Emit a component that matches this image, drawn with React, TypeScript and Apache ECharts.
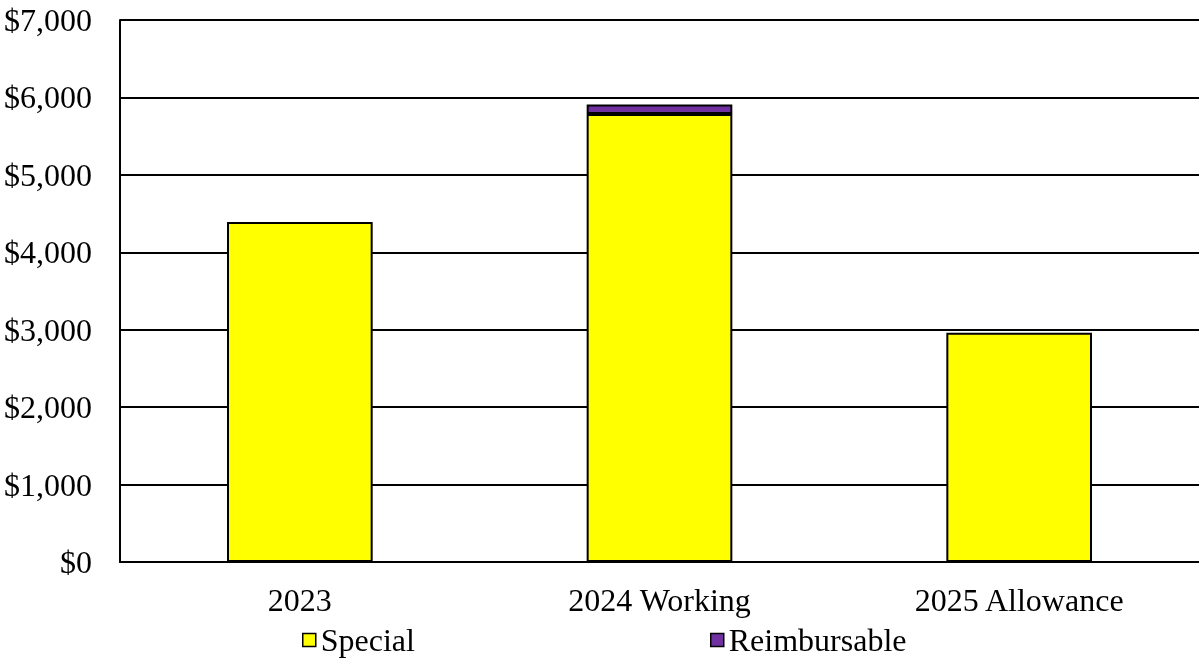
import React, { useEffect, useRef } from "react";
import * as echarts from "echarts";

const categories = ["2023", "2024 Working", "2025 Allowance"];
const specialValues = [4390, 5786, 2962];
const reimbursableValues = [0, 124, 0];
const yTicks = { min: 0, max: 7000, interval: 1000 };

const FONT = "'Liberation Serif', 'Times New Roman', serif";

export default function App() {
  const ref = useRef<HTMLDivElement>(null);
  useEffect(() => {
    if (!ref.current) return;
    const chart = echarts.init(ref.current, null, { renderer: "svg" });
    const legendBase = {
      top: 624,
      padding: 0,
      itemWidth: 13,
      itemHeight: 13,
      itemGap: 0,
      icon: "rect",
      itemStyle: { borderColor: "#000", borderWidth: 1.5 },
      textStyle: { color: "#000", fontFamily: FONT, fontSize: 32 },
    };
    chart.setOption({
      animation: false,
      grid: { left: 120, right: 0, top: 20, bottom: 99, containLabel: false },
      xAxis: {
        type: "category",
        data: categories,
        axisLine: { show: true, lineStyle: { color: "#000", width: 2 } },
        axisTick: { show: false },
        axisLabel: { color: "#000", fontFamily: FONT, fontSize: 32, margin: 22 },
      },
      yAxis: {
        type: "value",
        min: yTicks.min,
        max: yTicks.max,
        interval: yTicks.interval,
        axisLine: { show: true, lineStyle: { color: "#000", width: 2 } },
        axisTick: { show: false },
        splitLine: { show: true, lineStyle: { color: "#000", width: 2 } },
        axisLabel: {
          color: "#000",
          fontFamily: FONT,
          fontSize: 32,
          margin: 28,
          formatter: (v: number) => "$" + v.toLocaleString("en-US"),
        },
      },
      legend: [
        { ...legendBase, data: ["Special"], left: 302 },
        { ...legendBase, data: ["Reimbursable"], left: 710 },
      ],
      series: [
        {
          name: "Special",
          type: "bar",
          stack: "total",
          barWidth: "40.5%",
          data: specialValues,
          itemStyle: { color: "#FFFF00", borderColor: "#000", borderWidth: 2 },
        },
        {
          name: "Reimbursable",
          type: "bar",
          stack: "total",
          barWidth: "40.5%",
          data: reimbursableValues.map((v) => (v === 0 ? null : v)),
          itemStyle: { color: "#7030A0", borderColor: "#000", borderWidth: 2 },
        },
      ],
    });
    return () => chart.dispose();
  }, []);
  return (
    <div
      ref={ref}
      style={{ position: "fixed", left: 0, top: 0, width: 1199, height: 661 }}
    />
  );
}
